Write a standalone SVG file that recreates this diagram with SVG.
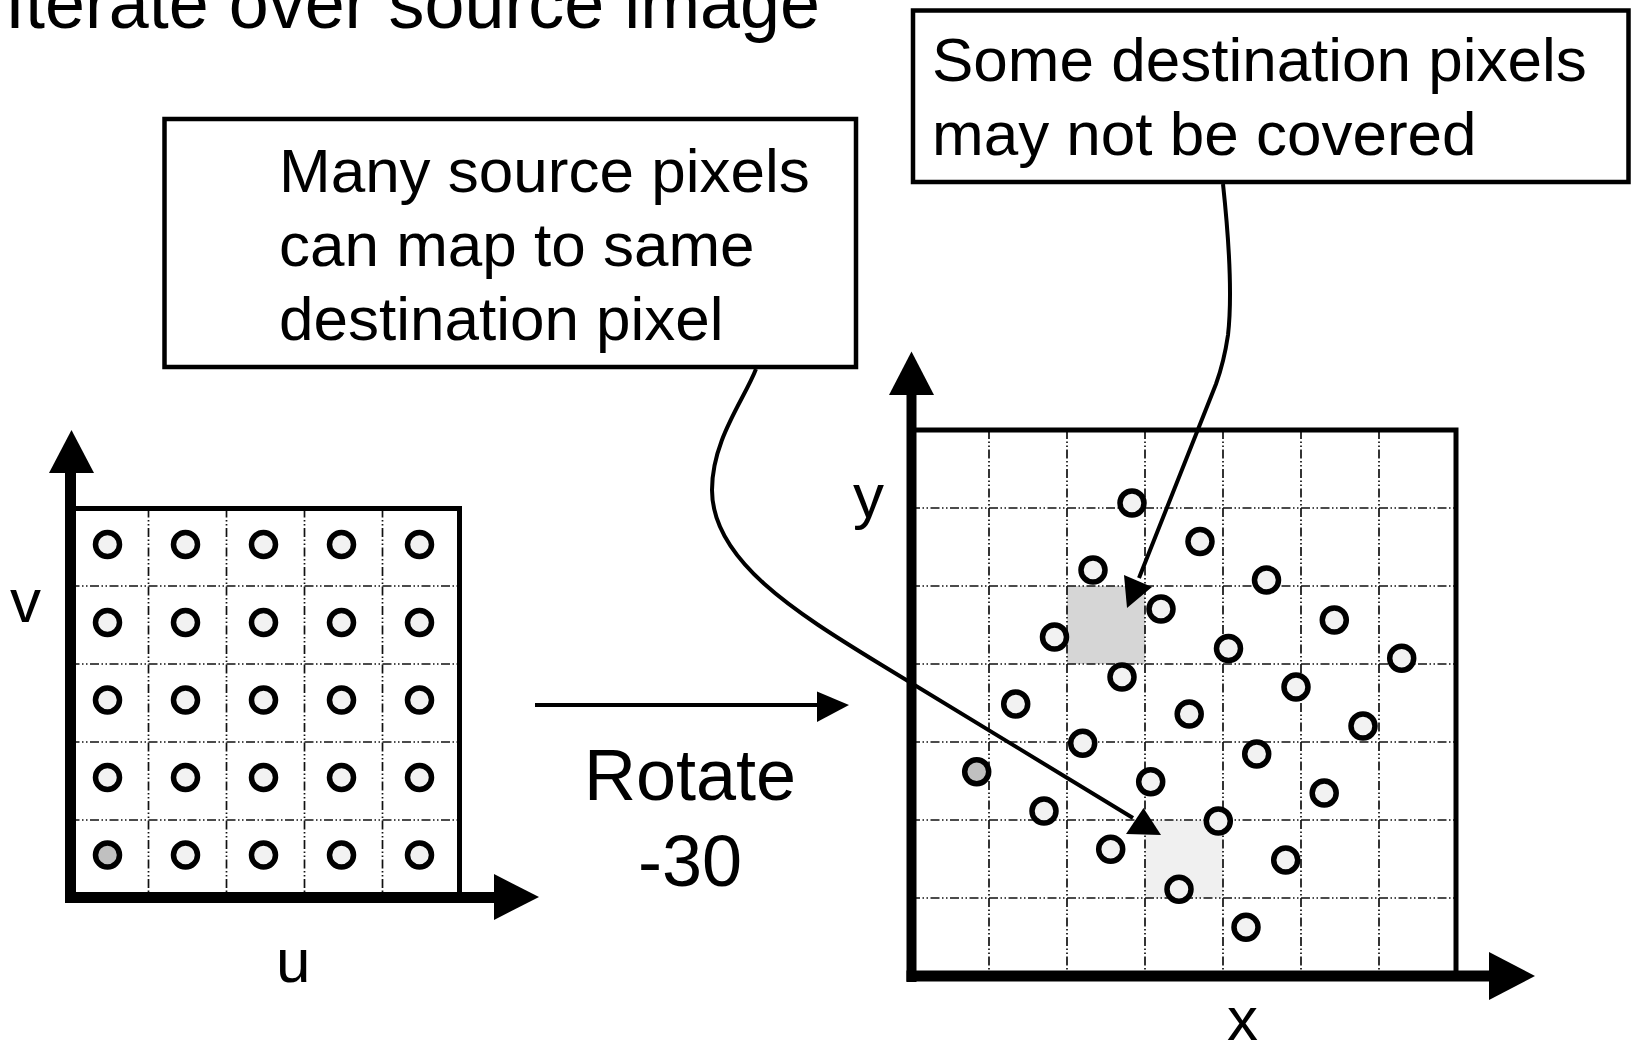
<svg xmlns="http://www.w3.org/2000/svg" width="1633" height="1048" viewBox="0 0 1633 1048">
  <style>
    .txt { font-family: "Liberation Sans", Arial, sans-serif; fill: #000; }
    .big { font-size: 72px; }
    .mid { font-size: 62px; }
    .grid { stroke: #111; stroke-width: 1.7; stroke-dasharray: 9 2.5 1.5 2.5 1.5 2.5; fill: none; }
    .frame { fill: none; stroke: #000; stroke-width: 5; }
    .pt { fill: #f2f2f2; stroke: #000; stroke-width: 5.5; }
    .pt.hl { fill: #c0c0c0; }
    .axis { fill: #000; }
    .callout { fill: #fff; stroke: #000; stroke-width: 4.5; }
    .wire { fill: none; stroke: #000; stroke-width: 4; }
  </style>

  <!-- heading, partly above the top edge -->
  <text class="txt big" x="5" y="28" textLength="815" lengthAdjust="spacingAndGlyphs">Iterate over source image</text>

  <!-- source image: 5x5 pixel grid in (u,v) -->
  <g id="source-grid">
    <g class="grid">
      <path d="M148.5,508.5V897 M226.5,508.5V897 M304.5,508.5V897 M382.5,508.5V897"/>
      <path d="M70.5,586H459.5 M70.5,664H459.5 M70.5,742H459.5 M70.5,820H459.5"/>
    </g>
    <rect class="frame" x="70.5" y="508.5" width="389" height="388.5" stroke-width="4.5"/>
    <g>
      <circle class="pt" cx="107.5" cy="544.5" r="12"/><circle class="pt" cx="185.5" cy="544.5" r="12"/><circle class="pt" cx="263.5" cy="544.5" r="12"/><circle class="pt" cx="341.5" cy="544.5" r="12"/><circle class="pt" cx="419.5" cy="544.5" r="12"/>
      <circle class="pt" cx="107.5" cy="622.5" r="12"/><circle class="pt" cx="185.5" cy="622.5" r="12"/><circle class="pt" cx="263.5" cy="622.5" r="12"/><circle class="pt" cx="341.5" cy="622.5" r="12"/><circle class="pt" cx="419.5" cy="622.5" r="12"/>
      <circle class="pt" cx="107.5" cy="700" r="12"/><circle class="pt" cx="185.5" cy="700" r="12"/><circle class="pt" cx="263.5" cy="700" r="12"/><circle class="pt" cx="341.5" cy="700" r="12"/><circle class="pt" cx="419.5" cy="700" r="12"/>
      <circle class="pt" cx="107.5" cy="777.5" r="12"/><circle class="pt" cx="185.5" cy="777.5" r="12"/><circle class="pt" cx="263.5" cy="777.5" r="12"/><circle class="pt" cx="341.5" cy="777.5" r="12"/><circle class="pt" cx="419.5" cy="777.5" r="12"/>
      <circle class="pt hl" cx="107.5" cy="855" r="12"/><circle class="pt" cx="185.5" cy="855" r="12"/><circle class="pt" cx="263.5" cy="855" r="12"/><circle class="pt" cx="341.5" cy="855" r="12"/><circle class="pt" cx="419.5" cy="855" r="12"/>
    </g>
    <!-- axes -->
    <rect class="axis" x="65" y="470" width="11" height="433"/>
    <polygon class="axis" points="49,473 71.5,430 94,473"/>
    <rect class="axis" x="65" y="892" width="432" height="11"/>
    <polygon class="axis" points="494,874 539,897 494,920"/>
    <text class="txt mid" x="10" y="622">v</text>
    <text class="txt mid" x="276" y="982">u</text>
  </g>

  <!-- destination image: 7x7 pixel grid in (x,y) with rotated samples -->
  <g id="dest-grid">
    <rect x="1067" y="586" width="78" height="78" fill="#d6d6d6"/>
    <rect x="1145" y="820" width="78" height="78" fill="#f0f0f0"/>
    <g class="grid">
      <path d="M989,430V976 M1067,430V976 M1145,430V976 M1223,430V976 M1301,430V976 M1379,430V976"/>
      <path d="M911,508H1456 M911,586H1456 M911,664H1456 M911,742H1456 M911,820H1456 M911,898H1456"/>
    </g>
    <rect class="frame" x="911" y="430" width="545" height="546"/>
    <g>
      <circle class="pt" cx="1132" cy="503" r="12"/>
      <circle class="pt" cx="1200" cy="541.5" r="12"/>
      <circle class="pt" cx="1093" cy="570" r="12"/>
      <circle class="pt" cx="1266.5" cy="580" r="12"/>
      <circle class="pt" cx="1161" cy="609" r="12"/>
      <circle class="pt" cx="1054.5" cy="637" r="12"/>
      <circle class="pt" cx="1334.3" cy="620" r="12"/>
      <circle class="pt" cx="1228.5" cy="648.5" r="12"/>
      <circle class="pt" cx="1122" cy="677" r="12"/>
      <circle class="pt" cx="1296" cy="687" r="12"/>
      <circle class="pt" cx="1401.7" cy="658.3" r="12"/>
      <circle class="pt" cx="1015.7" cy="704" r="12"/>
      <circle class="pt" cx="1189.2" cy="714" r="12"/>
      <circle class="pt" cx="1363" cy="726" r="12"/>
      <circle class="pt" cx="1082.7" cy="743.3" r="12"/>
      <circle class="pt" cx="1256.7" cy="754" r="12"/>
      <circle class="pt hl" cx="976.7" cy="771.7" r="12"/>
      <circle class="pt" cx="1150.7" cy="781.7" r="12"/>
      <circle class="pt" cx="1324.2" cy="793" r="12"/>
      <circle class="pt" cx="1044" cy="811" r="12"/>
      <circle class="pt" cx="1218.3" cy="821" r="12"/>
      <circle class="pt" cx="1110.7" cy="849.3" r="12"/>
      <circle class="pt" cx="1285.7" cy="860" r="12"/>
      <circle class="pt" cx="1179" cy="889.3" r="12"/>
      <circle class="pt" cx="1246" cy="927.3" r="12"/>
    </g>
    <!-- axes -->
    <rect class="axis" x="906.5" y="392" width="10" height="590"/>
    <polygon class="axis" points="889,395 911.5,351.5 934,395"/>
    <rect class="axis" x="906.5" y="970.5" width="586" height="11"/>
    <polygon class="axis" points="1489,952 1535,976 1489,1000"/>
    <text class="txt mid" x="853" y="517">y</text>
    <text class="txt mid" x="1227" y="1040">x</text>
  </g>

  <!-- callout boxes -->
  <g id="callout-many">
    <rect class="callout" x="164.5" y="119" width="691.5" height="248"/>
    <text class="txt mid" x="279" y="192">Many source pixels</text>
    <text class="txt mid" x="279" y="266">can map to same</text>
    <text class="txt mid" x="279" y="340">destination pixel</text>
  </g>
  <g id="callout-some">
    <rect class="callout" x="913" y="10.5" width="715.5" height="171.5"/>
    <text class="txt mid" x="932" y="81">Some destination pixels</text>
    <text class="txt mid" x="932" y="155">may not be covered</text>
  </g>

  <!-- transform label -->
  <g id="rotate-label">
    <text class="txt big" x="690" y="800" text-anchor="middle">Rotate</text>
    <text class="txt big" x="690" y="886" text-anchor="middle">-30</text>
  </g>

  <!-- connectors -->
  <g id="connectors">
    <path class="wire" d="M535,705H820"/>
    <polygon class="axis" points="817,691.5 849,705 817,722"/>

    <path class="wire" d="M756,369 C744,400 712,440 712,490 C712,560 795,612 880,664 L1133,818"/>
    <polygon class="axis" points="1143.5,808 1126,834 1161,835"/>

    <path class="wire" d="M1223,184 C1229,240 1232,300 1228,335 Q1224,362 1216,384 L1139,578"/>
    <polygon class="axis" points="1124,575 1152,587 1127,608"/>
  </g>
</svg>
